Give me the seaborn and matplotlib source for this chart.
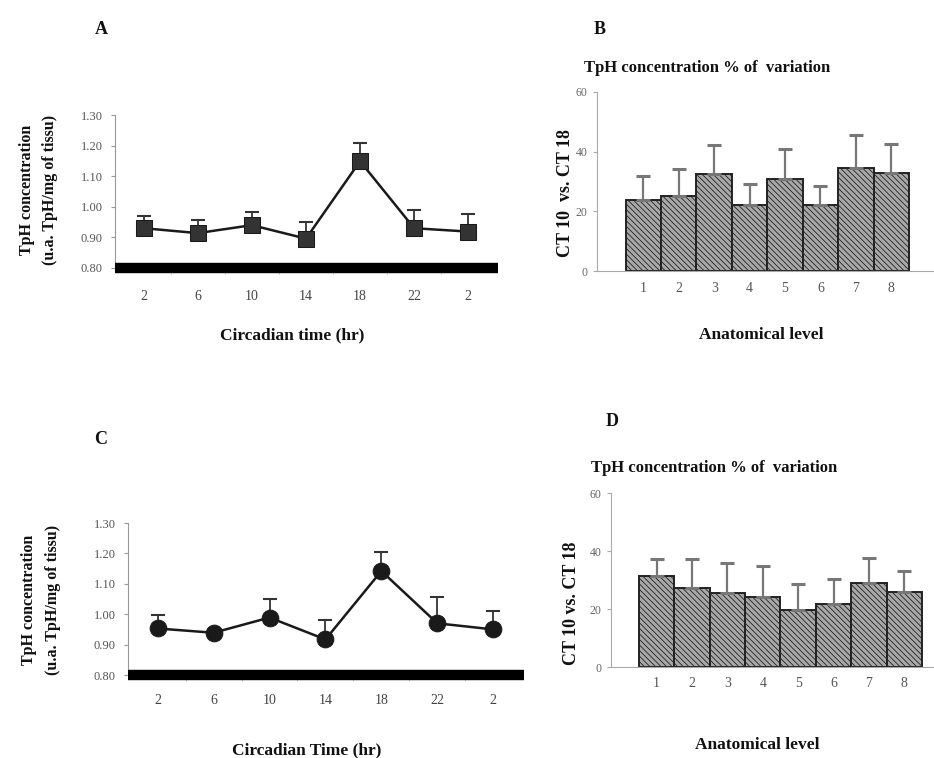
import numpy as np
import pandas as pd
import seaborn as sns
from matplotlib import pyplot as plt

# circadian time points (hr) and TpH concentration, panels A and C
ct_labels = ['2', '6', '10', '14', '18', '22', '2']
tph_a = [0.93, 0.914, 0.94, 0.896, 1.149, 0.93, 0.919]
err_a = [0.039, 0.044, 0.043, 0.055, 0.058, 0.061, 0.056]
tph_c = [0.953, 0.939, 0.989, 0.917, 1.142, 0.97, 0.95]
err_c = [0.044, 0.010, 0.060, 0.063, 0.063, 0.085, 0.060]

# % of variation CT10 vs CT18 per anatomical level, panels B and D
levels = ['1', '2', '3', '4', '5', '6', '7', '8']
var_b = [23.9, 25.0, 32.6, 22.2, 30.8, 22.2, 34.5, 32.8]
err_b = [7.8, 9.3, 9.5, 7.1, 10.2, 6.2, 11.1, 9.8]
var_d = [31.4, 27.1, 25.6, 24.2, 19.6, 21.7, 29.0, 25.9]
err_d = [5.9, 10.2, 10.2, 10.7, 9.0, 8.8, 8.6, 7.2]

sns.set_style('white')
plt.rcParams['font.family'] = ['Liberation Serif', 'DejaVu Serif']
plt.rcParams['hatch.linewidth'] = 0.6

W, H = 934, 758
fig = plt.figure(figsize=(W / 100, H / 100), dpi=100)


def px_axes(left, right, top, bottom):
    return fig.add_axes([left / W, 1 - bottom / H, (right - left) / W, (bottom - top) / H])


def ftext(x, y, s, **kw):
    fig.text(x / W, 1 - y / H, s, ha='center', va='center', **kw)


def line_panel(ax, vals, errs, marker, msize, pad):
    pos = np.arange(len(vals))
    df = pd.DataFrame({'pos': pos, 'val': vals})
    ax.errorbar(pos, vals, yerr=[np.zeros(len(errs)), errs], fmt='none',
                ecolor='#333333', elinewidth=1.3, capsize=5, capthick=1.5, zorder=2)
    sns.lineplot(data=df, x='pos', y='val', ax=ax, color='#1a1a1a', lw=1.8,
                 marker=marker, markersize=msize, markeredgecolor='#1a1a1a',
                 markerfacecolor='#1a1a1a' if marker == 'o' else '#333333', zorder=3)
    ax.axhline(0.80, color='black', lw=7.5, clip_on=False, zorder=5,
               solid_capstyle='butt')
    ax.set_ylim(0.80, 1.30)
    ax.set_yticks(np.arange(0.80, 1.301, 0.10))
    ax.set_yticklabels(['%.2f' % v for v in np.arange(0.80, 1.301, 0.10)])
    ax.set_xticks(pos)
    ax.set_xticklabels(ct_labels)
    ax.set_xticks(pos[:-1] + 0.5, minor=True)
    ax.set_xlim(-0.53, 6.55)
    ax.set_xlabel('')
    ax.set_ylabel('')
    for s in ['top', 'right']:
        ax.spines[s].set_visible(False)
    ax.spines['left'].set_color('#999999')
    ax.spines['bottom'].set_visible(False)
    ax.tick_params(axis='x', which='major', length=0, pad=pad, labelsize=10, labelcolor='#444444')
    ax.tick_params(axis='x', which='minor', length=4, color='#bbbbbb', direction='out', bottom=True)
    ax.tick_params(axis='y', length=3, color='#999999', left=True, pad=6, labelsize=9,
                   labelcolor='#555555')


def bar_panel(ax, vals, errs, xlim, pad):
    sns.barplot(x=levels, y=vals, ax=ax, width=1, color='#a8a8a8',
                edgecolor='#222222', linewidth=1.4, saturation=1)
    for p in ax.patches:
        p.set_hatch('\\\\\\\\\\\\')
    ax.errorbar(np.arange(len(vals)), vals, yerr=[np.zeros(len(errs)), errs], fmt='none',
                ecolor='#777777', elinewidth=1.6, capsize=5, capthick=2.2, zorder=1)
    ax.set_ylim(0, 60)
    ax.set_yticks([0, 20, 40, 60])
    ax.set_xlim(*xlim)
    ax.set_xlabel('')
    ax.set_ylabel('')
    for s in ['top', 'right']:
        ax.spines[s].set_visible(False)
    ax.spines['left'].set_color('#aaaaaa')
    ax.spines['bottom'].set_color('#aaaaaa')
    ax.tick_params(axis='x', length=0, pad=pad, labelsize=10, labelcolor='#555555')
    ax.tick_params(axis='y', length=3, color='#aaaaaa', left=True, pad=4, labelsize=8.5,
                   labelcolor='#666666')


# panel A
axA = px_axes(115, 498, 115, 268)
line_panel(axA, tph_a, err_a, 's', 11.5, 16)
# panel C
axC = px_axes(128, 524, 523, 675)
line_panel(axC, tph_c, err_c, 'o', 12, 14)
# panel B
axB = px_axes(597, 933, 92, 271)
bar_panel(axB, var_b, err_b, (-1.31, 8.18), 8)
# panel D
axD = px_axes(611, 934, 493, 667)
bar_panel(axD, var_d, err_d, (-1.29, 7.84), 7)

bold = dict(fontweight='bold', color='#111111')
ftext(101, 30, 'A', fontsize=13, **bold)
ftext(600, 30, 'B', fontsize=13, **bold)
ftext(101, 440, 'C', fontsize=13, **bold)
ftext(612, 421, 'D', fontsize=13, **bold)

ftext(707, 68, 'TpH concentration % of  variation', fontsize=12, **bold)
ftext(714, 468, 'TpH concentration % of  variation', fontsize=12, **bold)

ftext(27, 190, 'TpH concentration', fontsize=11.5, rotation=90, **bold)
ftext(50, 190, '(u.a. TpH/mg of tissu)', fontsize=11.5, rotation=90, **bold)
ftext(29, 600, 'TpH concentration', fontsize=11.5, rotation=90, **bold)
ftext(53, 600, '(u.a. TpH/mg of tissu)', fontsize=11.5, rotation=90, **bold)

ftext(292, 335, 'Circadian time (hr)', fontsize=12.5, **bold)
ftext(307, 750, 'Circadian Time (hr)', fontsize=12.5, **bold)

ftext(565, 193, 'CT 10  vs. CT 18', fontsize=13, rotation=90, **bold)
ftext(572, 603, 'CT 10 vs. CT 18', fontsize=13, rotation=90, **bold)

ftext(761, 335, 'Anatomical level', fontsize=12.5, **bold)
ftext(757, 745, 'Anatomical level', fontsize=12.5, **bold)

fig.savefig('out.png', dpi=100)
